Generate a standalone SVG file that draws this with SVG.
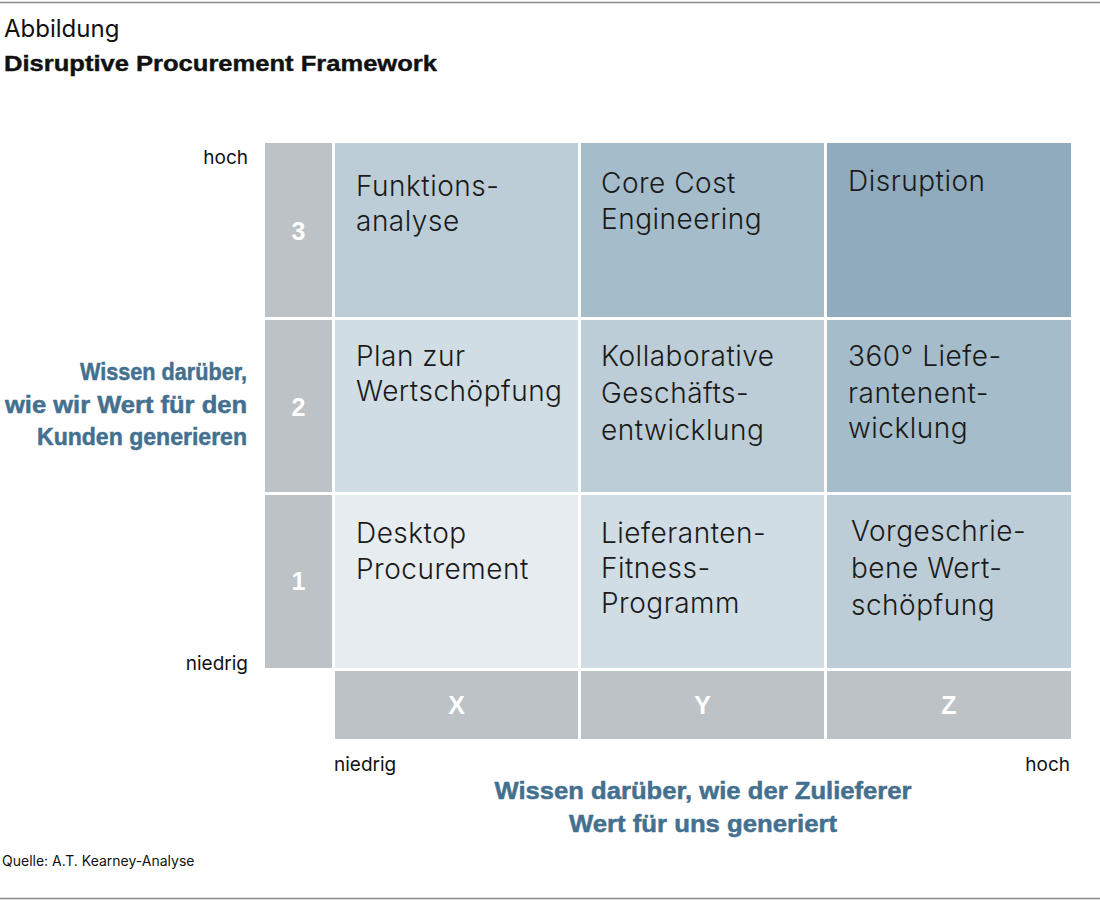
<svg xmlns="http://www.w3.org/2000/svg" width="1100" height="901" viewBox="0 0 1100 901">
<style>
.cell{font-family:Inter,"Liberation Sans",sans-serif;font-weight:300;font-size:28px;letter-spacing:0.5px;fill:#1a1a1a}
.num{font-family:"Liberation Sans",Arial,sans-serif;font-weight:bold;font-size:25px;fill:#ffffff;text-anchor:middle}
.ax{font-family:Inter,"Liberation Sans",sans-serif;font-size:19px;fill:#111}
.blue{font-family:"Liberation Sans",Arial,sans-serif;font-weight:bold;font-size:24px;fill:#44708f;stroke:#44708f;stroke-width:0.5px}
.g{fill:#bcc2c5}
</style>
<rect width="1100" height="901" fill="#ffffff"/>
<line x1="0" y1="2.5" x2="1100" y2="2.5" stroke="#8a8a8a" stroke-width="1.5"/>
<line x1="0" y1="898.5" x2="1100" y2="898.5" stroke="#8a8a8a" stroke-width="1.5"/>
<g id="title">
<text x="4" y="37" font-family="Inter,'Liberation Sans',sans-serif" font-size="24" fill="#111">Abbildung</text>
<text x="4" y="71" font-family="'Liberation Sans',Arial,sans-serif" font-weight="bold" font-size="22" fill="#111" stroke="#111" stroke-width="0.4" textLength="433" lengthAdjust="spacingAndGlyphs">Disruptive Procurement Framework</text>
</g>
<g id="row-labels">
<rect class="g" x="265" y="143" width="67" height="174"/>
<rect class="g" x="265" y="320" width="67" height="172"/>
<rect class="g" x="265" y="495" width="67" height="173"/>
<text class="num" x="298.5" y="240">3</text>
<text class="num" x="298.5" y="416">2</text>
<text class="num" x="298.5" y="590">1</text>
</g>
<g id="col-labels">
<rect class="g" x="335" y="671" width="243" height="68"/>
<rect class="g" x="581" y="671" width="243" height="68"/>
<rect class="g" x="827" y="671" width="244" height="68"/>
<text class="num" x="456.5" y="714">X</text>
<text class="num" x="702.5" y="714">Y</text>
<text class="num" x="949" y="714">Z</text>
</g>
<g id="cell-funktionsanalyse">
<rect x="335" y="143" width="243" height="174" fill="#bccdd8"/>
<text class="cell" x="356" y="196">Funktions-</text>
<text class="cell" x="356" y="231">analyse</text>
</g>
<g id="cell-core-cost">
<rect x="581" y="143" width="243" height="174" fill="#a5bccb"/>
<text class="cell" x="601" y="193">Core Cost</text>
<text class="cell" x="601" y="229">Engineering</text>
</g>
<g id="cell-disruption">
<rect x="827" y="143" width="244" height="174" fill="#8fabbd"/>
<text class="cell" x="848" y="191">Disruption</text>
</g>
<g id="cell-plan">
<rect x="335" y="320" width="243" height="172" fill="#d0dde5"/>
<text class="cell" x="356" y="366">Plan zur</text>
<text class="cell" x="356" y="401">Wertschöpfung</text>
</g>
<g id="cell-kollaborative">
<rect x="581" y="320" width="243" height="172" fill="#bccdd8"/>
<text class="cell" x="601" y="366">Kollaborative</text>
<text class="cell" x="601" y="403">Geschäfts-</text>
<text class="cell" x="601" y="440">entwicklung</text>
</g>
<g id="cell-360">
<rect x="827" y="320" width="244" height="172" fill="#a5bccb"/>
<text class="cell" x="848" y="366">360° Liefe-</text>
<text class="cell" x="848" y="403">rantenent-</text>
<text class="cell" x="848" y="438">wicklung</text>
</g>
<g id="cell-desktop">
<rect x="335" y="495" width="243" height="173" fill="#e6ecf0"/>
<text class="cell" x="356" y="543">Desktop</text>
<text class="cell" x="356" y="579">Procurement</text>
</g>
<g id="cell-lieferanten">
<rect x="581" y="495" width="243" height="173" fill="#d0dde5"/>
<text class="cell" x="601" y="543">Lieferanten-</text>
<text class="cell" x="601" y="578">Fitness-</text>
<text class="cell" x="601" y="613">Programm</text>
</g>
<g id="cell-vorgeschrieben">
<rect x="827" y="495" width="244" height="173" fill="#bccdd8"/>
<text class="cell" x="851" y="541">Vorgeschrie-</text>
<text class="cell" x="851" y="578">bene Wert-</text>
<text class="cell" x="851" y="615">schöpfung</text>
</g>
<g id="axis-y">
<text class="ax" x="248" y="164" text-anchor="end">hoch</text>
<text class="ax" x="248" y="670" text-anchor="end">niedrig</text>
<text class="blue" x="247" y="380" text-anchor="end" textLength="167" lengthAdjust="spacingAndGlyphs">Wissen darüber,</text>
<text class="blue" x="247" y="413" text-anchor="end" textLength="242" lengthAdjust="spacingAndGlyphs">wie wir Wert für den</text>
<text class="blue" x="247" y="445" text-anchor="end" textLength="210" lengthAdjust="spacingAndGlyphs">Kunden generieren</text>
</g>
<g id="axis-x">
<text class="ax" x="334" y="771">niedrig</text>
<text class="ax" x="1070" y="771" text-anchor="end">hoch</text>
<text class="blue" x="703" y="799" text-anchor="middle" textLength="417" lengthAdjust="spacingAndGlyphs">Wissen darüber, wie der Zulieferer</text>
<text class="blue" x="703" y="832" text-anchor="middle" textLength="268" lengthAdjust="spacingAndGlyphs">Wert für uns generiert</text>
</g>
<g id="source">
<text x="2" y="866" font-family="Inter,'Liberation Sans',sans-serif" font-size="14" fill="#111">Quelle: A.T. Kearney-Analyse</text>
</g>
</svg>
